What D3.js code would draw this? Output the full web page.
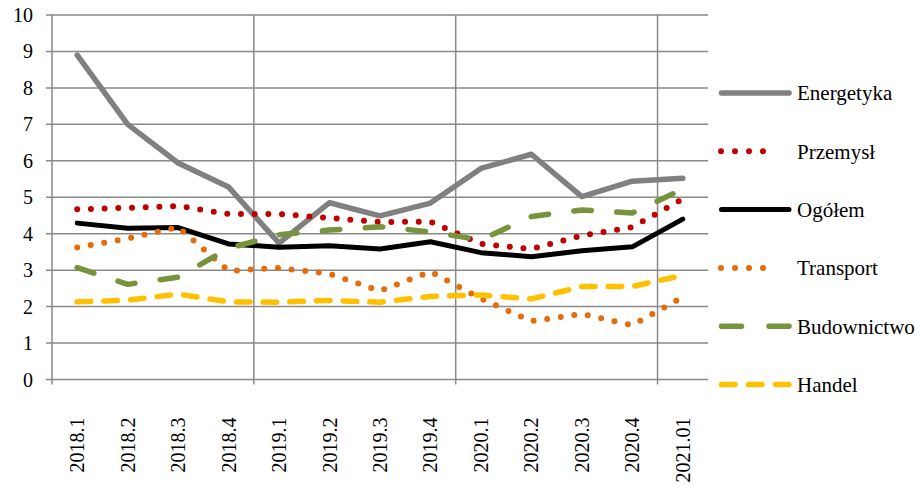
<!DOCTYPE html>
<html>
<head>
<meta charset="utf-8">
<script src="https://cdn.jsdelivr.net/npm/d3@7"></script>
</head>
<body style="margin:0">
<svg id="chart" width="921" height="486" font-family="Liberation Serif" style="font-family: 'Liberation Serif'"></svg>
<script>
const categories = ["2018.1","2018.2","2018.3","2018.4","2019.1","2019.2","2019.3","2019.4","2020.1","2020.2","2020.3","2020.4","2021.01"];
const yTicks = [0,1,2,3,4,5,6,7,8,9,10];

const energetyka  = [8.9, 7.0, 5.94, 5.28, 3.74, 4.85, 4.49, 4.84, 5.79, 6.18, 5.02, 5.44, 5.52];
const przemysl    = [4.67, 4.71, 4.76, 4.54, 4.54, 4.43, 4.32, 4.33, 3.72, 3.58, 3.95, 4.18, 4.95];
const ogolem      = [4.29, 4.15, 4.17, 3.72, 3.63, 3.67, 3.58, 3.78, 3.48, 3.37, 3.53, 3.64, 4.40];
const transport   = [3.62, 3.87, 4.18, 2.98, 3.06, 2.90, 2.43, 2.96, 2.22, 1.60, 1.80, 1.49, 2.26];
const budownictwo = [3.07, 2.61, 2.81, 3.60, 3.97, 4.10, 4.19, 4.05, 3.83, 4.47, 4.65, 4.57, 5.22];
const handel      = [2.13, 2.18, 2.34, 2.13, 2.12, 2.17, 2.12, 2.28, 2.32, 2.21, 2.55, 2.55, 2.86];

const seriesNames = ["Energetyka","Przemysł","Ogółem","Transport","Budownictwo","Handel"];
const seriesValues = [energetyka, przemysl, ogolem, transport, budownictwo, handel];

const styles = [
  {color:"#808080", width:5.5, dash:null,        legendDash:null,        lx1:721.5, lx2:789},
  {color:"#C00000", width:6,   dash:"0,13.7",    legendDash:"0,14",      lx1:721,   lx2:777},
  {color:"#000000", width:5,   dash:null,        legendDash:null,        lx1:721.5, lx2:789},
  {color:"#E46C0A", width:6,   dash:"0,13.7",    legendDash:"0,14",      lx1:721,   lx2:777},
  {color:"#77933C", width:5.5, dash:"17.5,25.5", legendDash:"20,27.5",   lx1:721.5, lx2:789},
  {color:"#FFC000", width:5.5, dash:"13.5,13.2", legendDash:"13.5,13.5", lx1:721.5, lx2:789}
];

const svg = d3.select("#chart");
svg.append("rect").attr("width",921).attr("height",486).attr("fill","#fff");

const plotLeft = 52, plotRight = 708, plotTop = 15, plotBottom = 379.5;
const x = d3.scaleBand().domain(categories).range([plotLeft, plotRight]);
const y = d3.scaleLinear().domain([0,10]).range([plotBottom, plotTop]);
const cx = c => x(c) + x.bandwidth()/2;

const gridColor = "#8a8a8a";

svg.append("g").selectAll("line").data(yTicks).join("line")
  .attr("x1", plotLeft - 6).attr("x2", plotRight)
  .attr("y1", d => y(d)).attr("y2", d => y(d))
  .attr("stroke", gridColor).attr("stroke-width", 1.5);

const vIdx = [0,4,8,12];
svg.append("g").selectAll("line").data(vIdx).join("line")
  .attr("x1", i => x(categories[i])).attr("x2", i => x(categories[i]))
  .attr("y1", plotTop).attr("y2", plotBottom + 5)
  .attr("stroke", gridColor).attr("stroke-width", 1.5);

// y axis labels
svg.append("g").selectAll("text").data(yTicks).join("text")
  .attr("x", plotLeft - 19).attr("y", d => y(d)).attr("dy","0.35em")
  .attr("text-anchor","end")
  .style("font-family", '"Liberation Serif"').style("font-size","20px")
  .text(d => d);

// x axis labels
svg.append("g").selectAll("text").data(categories).join("text")
  .attr("text-anchor","end")
  .attr("transform", c => `translate(${cx(c)},${plotBottom + 38}) rotate(-90)`)
  .attr("dy","0.35em")
  .style("font-family", '"Liberation Serif"').style("font-size","20px")
  .text(c => c);

const line = d3.line()
  .x((d,i) => cx(categories[i]))
  .y(d => y(d))
  .curve(d3.curveLinear);

seriesValues.forEach((vals, k) => {
  const s = styles[k];
  const p = svg.append("path").datum(vals)
    .attr("d", line)
    .attr("fill","none")
    .attr("stroke", s.color)
    .attr("stroke-width", s.width)
    .attr("stroke-linecap","round")
    .attr("stroke-linejoin","round");
  if (s.dash) p.attr("stroke-dasharray", s.dash);
});

const legendY0 = 93, legendStep = 58.3;
seriesNames.forEach((name, k) => {
  const s = styles[k];
  const ly = legendY0 + k*legendStep;
  const l = svg.append("line")
    .attr("x1", s.lx1).attr("x2", s.lx2).attr("y1", ly).attr("y2", ly)
    .attr("stroke", s.color).attr("stroke-width", s.width)
    .attr("stroke-linecap","round");
  if (s.legendDash) l.attr("stroke-dasharray", s.legendDash);
  svg.append("text").attr("x", 797).attr("y", ly).attr("dy","0.35em")
    .style("font-family", '"Liberation Serif"').style("font-size","21px")
    .text(name);
});
</script>
</body>
</html>
